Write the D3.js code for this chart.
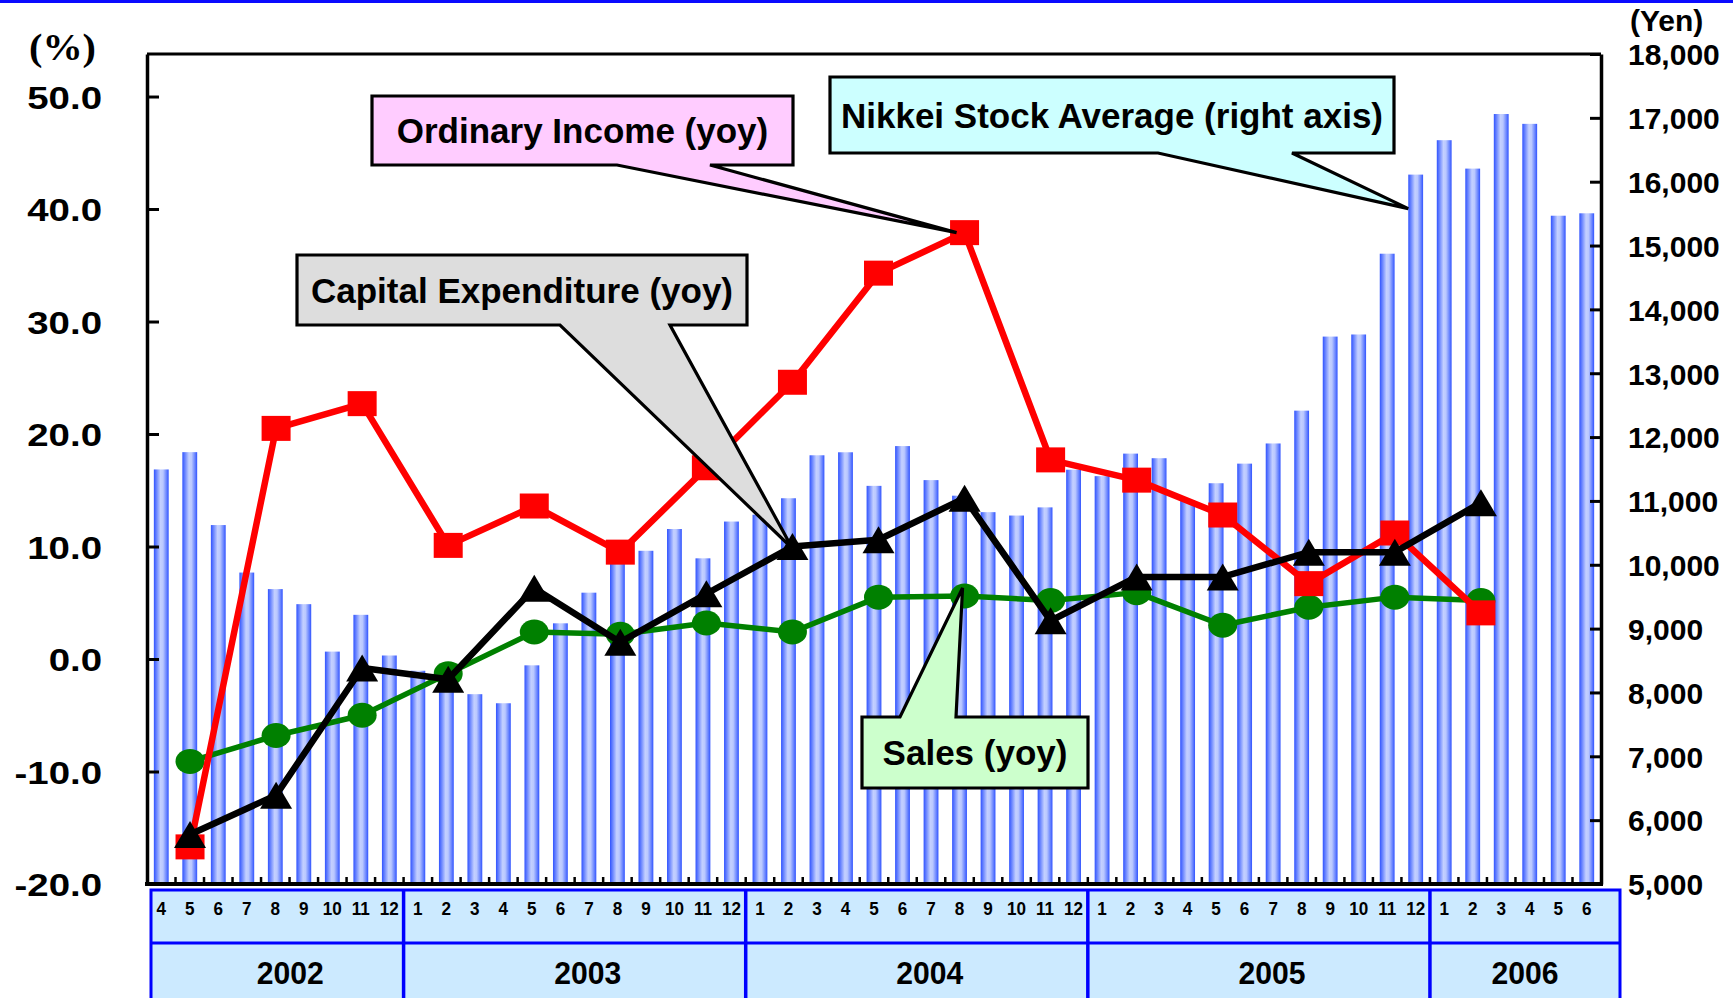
<!DOCTYPE html>
<html><head><meta charset="utf-8">
<script src="https://cdn.jsdelivr.net/npm/d3@7/dist/d3.min.js"></script>
<style>
body{margin:0;background:#fff;}
svg{display:block;}
text{font-family:"Liberation Sans",Arial,sans-serif;font-weight:bold;fill:#000;}
</style>
</head><body>
<svg id="chart" width="1733" height="998"></svg>
<script>
// ---------- DATA ----------
const monthKeys = [
 "2002-04","2002-05","2002-06","2002-07","2002-08","2002-09","2002-10","2002-11","2002-12",
 "2003-01","2003-02","2003-03","2003-04","2003-05","2003-06","2003-07","2003-08","2003-09","2003-10","2003-11","2003-12",
 "2004-01","2004-02","2004-03","2004-04","2004-05","2004-06","2004-07","2004-08","2004-09","2004-10","2004-11","2004-12",
 "2005-01","2005-02","2005-03","2005-04","2005-05","2005-06","2005-07","2005-08","2005-09","2005-10","2005-11","2005-12",
 "2006-01","2006-02","2006-03","2006-04","2006-05","2006-06"];
const monthLabels = monthKeys.map(k => String(+k.slice(5)));
const years = ["2002","2003","2004","2005","2006"];

// Nikkei Stock Average, month end (yen) - right axis
const nikkei = [
 11493,11764,10622,9878,9619,9383,8640,9216,8579,
 8340,8363,7973,7831,8425,9083,9563,10344,10219,10560,10101,10677,
 10784,11042,11715,11762,11236,11859,11326,11082,10824,10771,10899,11489,
 11388,11741,11669,11009,11277,11584,11900,12414,13574,13607,14872,16111,
 16650,16205,17060,16906,15467,15505];

// Quarterly series (yoy %) - left axis
const quarterKeys = ["2002-05","2002-08","2002-11","2003-02","2003-05","2003-08","2003-11","2004-02",
 "2004-05","2004-08","2004-11","2005-02","2005-05","2005-08","2005-11","2006-02"];
const ordinaryIncome = [-16.7,20.5,22.7,10.1,13.6,9.5,17.0,24.6,34.3,37.9,17.7,15.9,12.8,6.7,11.2,4.1];
const capitalExpenditure = [-15.6,-12.1,-0.8,-1.8,6.3,1.5,5.8,10.0,10.6,14.3,3.4,7.3,7.3,9.5,9.5,13.9];
const sales = [-9.1,-6.8,-5.0,-1.3,2.4,2.2,3.2,2.4,5.5,5.6,5.2,5.9,3.0,4.6,5.5,5.2];

const leftTicks = [-20,-10,0,10,20,30,40,50];
const rightTicks = [5000,6000,7000,8000,9000,10000,11000,12000,13000,14000,15000,16000,17000,18000];

// ---------- LAYOUT ----------
const W = 1733, H = 998;
const L = 147, R = 1601, T = 54, B = 884;
const svg = d3.select("#chart");

const x = d3.scaleBand().domain(monthKeys).range([L, R]).padding(0);
const xLine = d3.scaleBand().domain(monthKeys).range([L, R + 9]).padding(0);
const yL = d3.scaleLinear().domain([-20, 53.78]).range([B, T]);
const yR = d3.scaleLinear().domain([5000, 18000]).range([B, T]);

function stretch(sel, k){
  sel.each(function(){ const w=this.getComputedTextLength(); this.setAttribute("textLength", w*k); this.setAttribute("lengthAdjust","spacingAndGlyphs"); });
}

// top blue rule
svg.append("rect").attr("x",0).attr("y",0).attr("width",W).attr("height",3).attr("fill","#0a0aff");

// gradient for bars
const defs = svg.append("defs");
const g = defs.append("linearGradient").attr("id","barGrad").attr("x1","0").attr("x2","1").attr("y1","0").attr("y2","0");
[[0,"#3053ff"],[0.18,"#6a85ff"],[0.45,"#c4d0ff"],[0.62,"#bac8ff"],[0.85,"#6a85ff"],[1,"#3053ff"]]
 .forEach(([o,c]) => g.append("stop").attr("offset",o).attr("stop-color",c));

// bars
const bw = x.bandwidth()*0.52;
svg.append("g").selectAll("rect").data(nikkei).join("rect")
 .attr("x",(d,i)=>x(monthKeys[i]) + (x.bandwidth()-bw)/2)
 .attr("y",d=>yR(d))
 .attr("width",bw)
 .attr("height",d=>B - yR(d))
 .attr("fill","url(#barGrad)");

// frame
svg.append("line").attr("x1",L).attr("x2",R).attr("y1",T).attr("y2",T).attr("stroke","#000").attr("stroke-width",3);

// left axis
const fmtL = v => d3.format(".1f")(v).replace("\u2212","-");
const axL = svg.append("g").attr("transform",`translate(${L},0)`)
 .call(d3.axisLeft(yL).tickValues(leftTicks).tickSizeInner(-12).tickSizeOuter(0).tickPadding(45).tickFormat(fmtL));
axL.select(".domain").attr("stroke-width",3.5);
axL.selectAll(".tick line").attr("stroke-width",3);
axL.selectAll("text").style("font-size","32px").attr("dy","0.36em").call(stretch, 1.2);

// right axis
const axR = svg.append("g").attr("transform",`translate(${R},0)`)
 .call(d3.axisRight(yR).tickValues(rightTicks).tickSizeInner(-11).tickSizeOuter(0).tickPadding(27).tickFormat(d3.format(",")));
axR.select(".domain").attr("stroke-width",3.5);
axR.selectAll(".tick line").attr("stroke-width",3);
axR.selectAll("text").style("font-size","30px").attr("dy","0.36em");

// bottom axis line + month ticks
svg.append("g").selectAll("line").data(monthKeys.slice(1)).join("line")
 .attr("x1",d=>x(d)).attr("x2",d=>x(d)).attr("y1",B).attr("y2",B-7).attr("stroke","#000").attr("stroke-width",2.5);
svg.append("line").attr("x1",L-2).attr("x2",R+2).attr("y1",B).attr("y2",B).attr("stroke","#000").attr("stroke-width",4);

// axis titles
svg.append("text").attr("x",29).attr("y",60).text("(%)")
 .style("font-family",'"Liberation Serif","Times New Roman",serif').style("font-size","38px")
 .attr("textLength",67).attr("lengthAdjust","spacingAndGlyphs");
svg.append("text").attr("x",1630).attr("y",31).text("(Yen)").style("font-size","30px");

// ---------- LINES ----------
function series(vals, color, width, marker){
  const pts = vals.map((v,i)=>({k:quarterKeys[i], v}));
  const gx = d => xLine(d.k) + xLine.bandwidth()/2;
  const grp = svg.append("g");
  grp.append("path").datum(pts)
   .attr("d", d3.line().x(gx).y(d=>yL(d.v)))
   .attr("fill","none").attr("stroke",color).attr("stroke-width",width).attr("stroke-linejoin","round");
  const m = grp.selectAll(".m").data(pts).join(marker.tag);
  marker.draw(m, gx, d=>yL(d.v));
  return pts;
}
series(sales, "#008000", 5.5, {tag:"ellipse", draw:(s,fx,fy)=>s.attr("cx",fx).attr("cy",fy).attr("rx",14.5).attr("ry",12.5).attr("fill","#008000")});
series(ordinaryIncome, "#ff0000", 6.5, {tag:"rect", draw:(s,fx,fy)=>s.attr("x",d=>fx(d)-14.5).attr("y",d=>fy(d)-12.5).attr("width",29).attr("height",25).attr("fill","#ff0000")});
series(capitalExpenditure, "#000000", 6.5, {tag:"path", draw:(s,fx,fy)=>s.attr("d",d=>{const cx=fx(d), cy=fy(d); return `M${cx},${cy-13.5}L${cx+16},${cy+13.5}L${cx-16},${cy+13.5}Z`;}).attr("fill","#000")});

// ---------- TABLE ----------
const tL = 151, tR = 1620, tTop = 890, tMid = 943;
svg.append("rect").attr("x",tL).attr("y",tTop).attr("width",tR-tL).attr("height",H-tTop+10)
 .attr("fill","#cceaff").attr("stroke","#0000ff").attr("stroke-width",3);
svg.append("line").attr("x1",tL).attr("x2",tR).attr("y1",tMid).attr("y2",tMid).attr("stroke","#0000ff").attr("stroke-width",3);
const yearStarts = years.map(y => monthKeys.find(k=>k.startsWith(y)));
svg.append("g").selectAll("line").data(yearStarts.slice(1)).join("line")
 .attr("x1",d=>x(d)).attr("x2",d=>x(d)).attr("y1",tTop).attr("y2",H).attr("stroke","#0000ff").attr("stroke-width",3.5);
svg.append("g").selectAll("text").data(monthKeys).join("text")
 .attr("x",d=>x(d)+x.bandwidth()/2).attr("y",915).attr("text-anchor","middle")
 .style("font-size","18px").text((d,i)=>monthLabels[i]).call(stretch, 0.95);
svg.append("g").selectAll("text").data(years).join("text")
 .attr("x",(y,i)=>{
   const ks = monthKeys.filter(k=>k.startsWith(y));
   const s = i===0 ? tL : x(ks[0]);
   const e = i===years.length-1 ? tR : x(ks[ks.length-1]) + x.bandwidth();
   return (s+e)/2 + (i===years.length-1 ? 0 : 13);
 })
 .attr("y",984).attr("text-anchor","middle").style("font-size","32px").text(d=>d)
 .attr("textLength",67).attr("lengthAdjust","spacingAndGlyphs");

// ---------- CALLOUTS ----------
const qx = k => xLine(k) + xLine.bandwidth()/2;
const qi = k => quarterKeys.indexOf(k);
const callouts = [
  {text:"Ordinary Income (yoy)", fill:"#ffccff", box:[372,96,793,165], base:[617,710], side:"bottom",
   tip:[qx("2004-08")-8, yL(ordinaryIncome[qi("2004-08")])]},
  {text:"Nikkei Stock Average (right axis)", fill:"#ccffff", box:[830,77,1394,153], base:[1158,1292], side:"bottom",
   tip:[x("2005-12")+(x.bandwidth()-bw)/2, yR(nikkei[monthKeys.indexOf("2005-12")])+34]},
  {text:"Capital Expenditure (yoy)", fill:"#dddddd", box:[297,255,747,325], base:[560,670], side:"bottom",
   tip:[qx("2004-02"), yL(capitalExpenditure[qi("2004-02")])+2]},
  {text:"Sales (yoy)", fill:"#ccffcc", box:[862,717,1088,788], base:[900,956], side:"top",
   tip:[qx("2004-08")-2, yL(sales[qi("2004-08")])-8]}
];
callouts.forEach(c=>{
  const [x0,y0,x1,y1] = c.box, [b0,b1] = c.base, [tx,ty] = c.tip;
  let d;
  if (c.side==="bottom") d = `M${x0},${y0}H${x1}V${y1}H${b1}L${tx},${ty}L${b0},${y1}H${x0}Z`;
  else d = `M${x0},${y1}H${x1}V${y0}H${b1}L${tx},${ty}L${b0},${y0}H${x0}Z`;
  svg.append("path").attr("d",d).attr("fill",c.fill).attr("stroke","#000").attr("stroke-width",3.2).attr("stroke-linejoin","miter");
  svg.append("text").attr("x",(x0+x1)/2).attr("y",(y0+y1)/2+12.5).attr("text-anchor","middle")
   .style("font-size","35px").text(c.text);
});
</script>
</body></html>
